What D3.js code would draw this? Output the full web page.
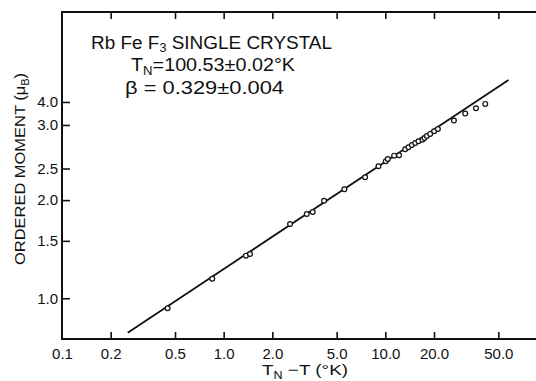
<!DOCTYPE html>
<html lang="en">
<head>
  <meta charset="utf-8">
  <title>RbFeF3 ordered moment</title>
  <style type="text/css">
    body { margin: 0; background: #fff; }
    svg { width: 536px; height: 381px; display: block; }
    text { font-family: "Liberation Sans", "DejaVu Sans", sans-serif; fill: #111; }
  </style>
  <script src="https://cdnjs.cloudflare.com/ajax/libs/d3/7.8.5/d3.min.js"></script>
</head>
<body>
<div id="chart"></div>
<script>
  // measured points: T_N - T (K) and ordered moment (mu_B)
  var tempDiff = [0.450, 0.850, 1.374, 1.455, 2.574, 3.266, 3.557, 4.178, 5.581, 7.499,
                  9.064, 10.07, 10.36, 11.34, 12.17, 13.27, 13.90, 14.59, 15.30, 16.03,
                  16.97, 17.46, 18.07, 18.94, 20.05, 21.14, 26.56, 31.20, 36.35, 41.50];
  var moment = [0.932, 1.148, 1.351, 1.367, 1.690, 1.814, 1.839, 1.992, 2.160, 2.350,
                2.541, 2.633, 2.675, 2.738, 2.746, 2.864, 2.905, 2.953, 2.995, 3.031,
                3.065, 3.102, 3.146, 3.192, 3.253, 3.306, 3.506, 3.684, 3.826, 3.945];

  // fitted power law line (end points)
  var fitX = [0.255, 57.8];
  var fitY = [0.784, 4.67];

  var xTickValues = [0.1, 0.2, 0.5, 1, 2, 5, 10, 20, 50];
  var xTickLabels = ["0.1", "0.2", "0.5", "1.0", "2.0", "5.0", "10.0", "20.0", "50.0"];
  // the printed scale puts "3.0" where 3.4 would be
  var yTickValues = [1.0, 1.5, 2.0, 2.5, 3.4, 4.0];
  var yTickLabels = ["1.0", "1.5", "2.0", "2.5", "3.0", "4.0"];

  function drawChart() {
    var w = 536, h = 381;
    var padL = 62, padR = 547, padT = 12, padB = 339;

    var svg = d3.select("#chart").append("svg")
      .attr("width", w)
      .attr("height", h);

    var x = d3.scaleLog().domain([0.1, 100]).range([padL, padR]);
    var y = d3.scaleLog().domain([0.75, 7.55]).range([padB, padT]);

    // frame
    svg.append("rect")
      .attr("x", padL).attr("y", padT)
      .attr("width", padR - padL).attr("height", padB - padT)
      .attr("fill", "none")
      .attr("stroke", "#111")
      .attr("stroke-width", 2);

    var xAxis = svg.append("g")
      .attr("transform", "translate(0," + padB + ")")
      .call(d3.axisBottom(x).tickValues(xTickValues).tickSize(-7).tickPadding(9)
        .tickFormat(function(d, i) { return xTickLabels[i]; }));

    svg.append("g")
      .attr("transform", "translate(0," + padT + ")")
      .call(d3.axisTop(x).tickValues(xTickValues.slice(1)).tickSize(-7).tickFormat(""));

    svg.append("g")
      .attr("transform", "translate(" + padL + ",0)")
      .call(d3.axisLeft(y).tickValues(yTickValues).tickSize(-8).tickPadding(4)
        .tickFormat(function(d, i) { return yTickLabels[i]; }));

    svg.selectAll(".domain").remove();
    svg.selectAll(".tick line").attr("stroke", "#111").attr("stroke-width", 1.6);
    svg.selectAll(".tick text")
      .style("font-family", "'Liberation Sans', sans-serif")
      .style("font-size", "15px")
      .attr("fill", "#111");
    xAxis.selectAll(".tick").filter(function(d) { return d == 0.1; }).select("line").remove();

    // fit line
    var line = d3.line()
      .x(function(d) { return x(d[0]); })
      .y(function(d) { return y(d[1]); });
    svg.append("path")
      .datum(d3.zip(fitX, fitY))
      .attr("d", line)
      .attr("fill", "none")
      .attr("stroke", "#111")
      .attr("stroke-width", 1.8);

    // data points
    svg.append("g")
      .selectAll("circle")
      .data(d3.zip(tempDiff, moment))
      .enter().append("circle")
      .attr("cx", function(d) { return x(d[0]); })
      .attr("cy", function(d) { return y(d[1]); })
      .attr("r", 2.4)
      .attr("fill", "#fff")
      .attr("stroke", "#111")
      .attr("stroke-width", 1.2);

    // annotation
    var t1 = svg.append("text").attr("x", 91).attr("y", 49).style("font-size", "18px")
      .attr("textLength", 241).attr("lengthAdjust", "spacingAndGlyphs");
    t1.append("tspan").text("Rb Fe F");
    t1.append("tspan").attr("dy", 3).style("font-size", "12px").text("3");
    t1.append("tspan").attr("dy", -3).text(" SINGLE CRYSTAL");

    var t2 = svg.append("text").attr("x", 131).attr("y", 71).style("font-size", "18px")
      .attr("textLength", 164).attr("lengthAdjust", "spacingAndGlyphs");
    t2.append("tspan").text("T");
    t2.append("tspan").attr("dy", 4).style("font-size", "12px").text("N");
    t2.append("tspan").attr("dy", -4).text("=100.53\u00b10.02\u00b0K");

    svg.append("text").attr("x", 125).attr("y", 94).style("font-size", "18px")
      .attr("textLength", 159).attr("lengthAdjust", "spacingAndGlyphs")
      .text("\u03b2 = 0.329\u00b10.004");

    // axis titles
    var xt = svg.append("text").attr("x", 262).attr("y", 375).style("font-size", "15px")
      .attr("textLength", 86).attr("lengthAdjust", "spacingAndGlyphs");
    xt.append("tspan").text("T");
    xt.append("tspan").attr("dy", 4).style("font-size", "10px").text("N");
    xt.append("tspan").attr("dy", -4).text(" \u2212T (\u00b0K)");

    var yt = svg.append("text")
      .attr("transform", "translate(25,169) rotate(-90)")
      .attr("text-anchor", "middle")
      .style("font-size", "15px")
      .attr("textLength", 192).attr("lengthAdjust", "spacingAndGlyphs");
    yt.append("tspan").text("ORDERED MOMENT (\u03bc");
    yt.append("tspan").attr("dy", 4).style("font-size", "10px").text("B");
    yt.append("tspan").attr("dy", -4).text(")");
  }

  drawChart();
</script>
</body>
</html>
